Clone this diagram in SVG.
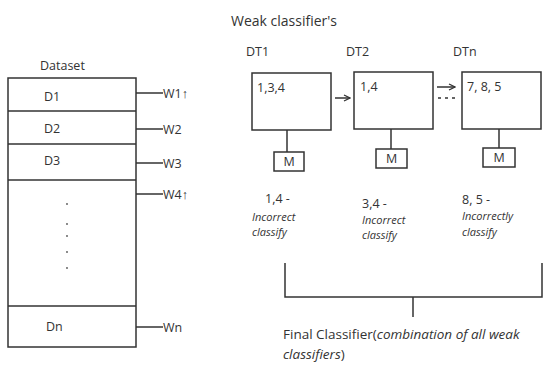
<svg xmlns="http://www.w3.org/2000/svg" width="558" height="367" viewBox="0 0 558 367">
<style>
text{font-family:"Open Sans","Liberation Sans",sans-serif;fill:#333;font-size:14px}
.b{fill:#fff;stroke:#333;stroke-width:1.5}
.l{stroke:#333;stroke-width:1.5;fill:none}
.i{font-style:italic;font-size:11px}
.n{font-size:14px}
.f{font-size:13.5px}
.s{font-size:12.5px}
</style>
<defs>
<marker id="ah" markerWidth="8" markerHeight="8" refX="7" refY="4" orient="auto" markerUnits="userSpaceOnUse">
<path d="M1,1 L7,4 L1,7" fill="none" stroke="#333" stroke-width="1.3"/>
</marker>
</defs>
<rect width="558" height="367" fill="#fff"/>
<g id="dataset">
<text x="40" y="70" class="s">Dataset</text>
<rect class="b" x="8" y="78" width="128" height="269"/>
<line class="l" x1="8" y1="111" x2="136" y2="111"/>
<line class="l" x1="8" y1="144" x2="136" y2="144"/>
<line class="l" x1="8" y1="180" x2="136" y2="180"/>
<line class="l" x1="8" y1="306" x2="136" y2="306"/>
<text x="44" y="101" class="s">D1</text>
<text x="44" y="133" class="s">D2</text>
<text x="44" y="165" class="s">D3</text>
<text x="46" y="331" class="s">Dn</text>
<g fill="#555"><circle cx="67" cy="204" r="0.9"/><circle cx="67" cy="224" r="0.9"/><circle cx="67" cy="236" r="0.9"/><circle cx="67" cy="252" r="0.9"/><circle cx="67" cy="268" r="0.9"/></g>
</g>
<g id="weights">
<line class="l" x1="136" y1="93" x2="163" y2="93"/>
<text x="163" y="98" class="s">W1↑</text>
<line class="l" x1="136" y1="129" x2="163" y2="129"/>
<text x="163" y="134" class="s">W2</text>
<line class="l" x1="136" y1="163" x2="163" y2="163"/>
<text x="163" y="168" class="s">W3</text>
<line class="l" x1="136" y1="194" x2="163" y2="194"/>
<text x="163" y="199" class="s">W4↑</text>
<line class="l" x1="136" y1="327" x2="163" y2="327"/>
<text x="163" y="332" class="s">Wn</text>
</g>
<text x="231" y="26" class="n">Weak classifier's</text>
<g id="dt1">
<text x="246" y="56" class="s">DT1</text>
<rect class="b" x="252" y="73" width="79" height="57"/>
<text x="257" y="92" class="s">1,3,4</text>
<line class="l" x1="287" y1="130" x2="287" y2="152"/>
<rect class="b" x="274" y="152" width="30" height="19"/>
<text x="289" y="166" text-anchor="middle" class="s">M</text>
<text x="265" y="203" class="s">1,4 -</text>
<text class="i" x="252" y="221">Incorrect</text>
<text class="i" x="252" y="236">classify</text>
</g>
<g id="dt2">
<text x="346" y="56" class="s">DT2</text>
<rect class="b" x="354" y="72" width="79" height="57"/>
<text x="360" y="91" class="s">1,4</text>
<line class="l" x1="391" y1="129" x2="391" y2="149"/>
<rect class="b" x="376" y="149" width="31" height="19"/>
<text x="391.5" y="163" text-anchor="middle" class="s">M</text>
<text x="362" y="208" class="s">3,4 -</text>
<text class="i" x="362" y="224">Incorrect</text>
<text class="i" x="362" y="239">classify</text>
</g>
<g id="dtn">
<text x="453" y="56" class="s">DTn</text>
<rect class="b" x="462" y="72" width="79" height="57"/>
<text x="467" y="91" class="s">7, 8, 5</text>
<line class="l" x1="499" y1="129" x2="499" y2="148"/>
<rect class="b" x="483" y="148" width="32" height="19"/>
<text x="499" y="162" text-anchor="middle" class="s">M</text>
<text x="462" y="204" class="s">8, 5 -</text>
<text class="i" x="462" y="220">Incorrectly</text>
<text class="i" x="462" y="236">classify</text>
</g>
<g id="final">
<text class="f" x="283" y="339">Final Classifier(<tspan font-style="italic">combination of all weak</tspan></text>
<text class="f" x="283" y="359"><tspan font-style="italic">classifiers</tspan>)</text>
</g>
<g id="connectors">
<line class="l" x1="335" y1="98" x2="350" y2="98" marker-end="url(#ah)"/>
<line class="l" x1="437" y1="87" x2="455" y2="87" marker-end="url(#ah)"/>
<line class="l" x1="438" y1="98" x2="456" y2="98" stroke-dasharray="3,4"/>
<path class="l" d="M285,263 V297 H542 V263"/>
<line class="l" x1="413" y1="297" x2="413" y2="317"/>
</g>
</svg>
